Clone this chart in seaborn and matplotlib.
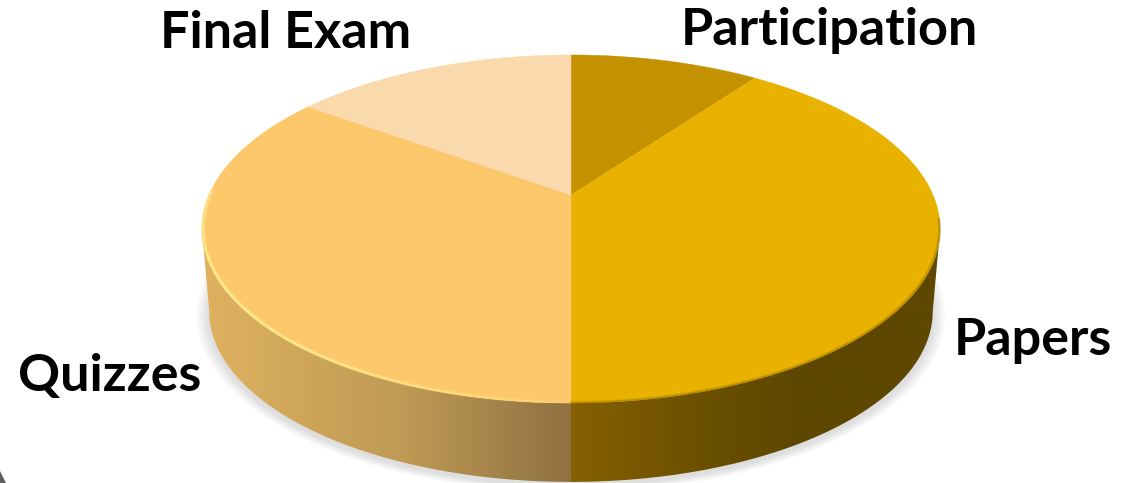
"""3D style grading pie chart drawn with a perspective projection of the unit circle."""
import numpy as np
import matplotlib
matplotlib.use("Agg")
import matplotlib.pyplot as plt
from matplotlib.collections import LineCollection
from matplotlib.colors import LinearSegmentedColormap, to_rgba
from matplotlib.patches import Polygon
import seaborn as sns

# data, clockwise from 12 o'clock
categories = ["Participation", "Papers", "Quizzes", "Final Exam"]
shares = [10, 40, 35, 15]
top_colors = ["#C49200", "#E9B200", "#FDC86C", "#FAD9AC"]

# layout in pixels
label_pos = {
    "Participation": (829, 30),
    "Papers": (1033, 340),
    "Quizzes": (110, 377),
    "Final Exam": (286, 34),
}
CX, APEX_Y = 571, 195
A, B, K = 362, 167.4, 0.1954

sns.set_theme(style="white")
plt.rcParams["font.family"] = ["Lato", "DejaVu Sans"]
palette = sns.color_palette(top_colors)


def project(theta, scale=1.0, apex_y=APEX_Y):
    # theta in degrees clockwise from the back of the disc
    t = np.radians(theta)
    u, v = np.sin(t), np.cos(t)
    w = 1 + K * v
    return CX + scale * A * u / w, apex_y - scale * B * v / w


def base(theta, grow=0.0):
    return project(theta, scale=0.98 + grow, apex_y=278)


def wall(ax, t0, t1, stops):
    # front wall between two angles, filled with a horizontal gradient
    th = np.linspace(t0, t1, 200)
    tx, ty = project(th)
    bx, by = base(th)
    pts = np.column_stack([np.r_[tx, bx[::-1]], np.r_[ty, by[::-1]]])
    x0, x1 = pts[:, 0].min(), pts[:, 0].max()
    cmap = LinearSegmentedColormap.from_list("side", stops)
    im = ax.imshow(np.linspace(0, 1, 256)[None, :], cmap=cmap, aspect="auto",
                   extent=(x0, x1, 483, 200), zorder=2, interpolation="bilinear")
    im.set_clip_path(Polygon(pts, transform=ax.transData))


fig = plt.figure(figsize=(11.22, 4.83), dpi=100)
ax = fig.add_axes([0, 0, 1, 1])

# soft shadow under the disc
tangent = 101.3
th = np.linspace(0, 360, 361)
for grow in np.linspace(0.035, 0.002, 12):
    sx, sy = base(th, grow)
    ax.fill(sx, sy + 3, color="#909090", alpha=0.022, lw=0, zorder=1)

# front wall, one gradient on each side of the 50% boundary
wall(ax, tangent, 180, [(0.0, "#866100"), (0.35, "#6B5000"), (0.6, "#5E4700"), (1.0, "#5E4700")])
wall(ax, 180, 360 - tangent, [(0.0, "#DFB25F"), (0.55, "#BE9A55"), (1.0, "#8F7040")])

# top face, one wedge per category
edges = np.r_[0, np.cumsum(shares)] / np.sum(shares) * 360
for i, name in enumerate(categories):
    arc = np.linspace(edges[i], edges[i + 1], 200)
    ax_x, ax_y = project(arc)
    ax.fill(np.r_[CX, ax_x], np.r_[APEX_Y, ax_y], color=palette[i], lw=0.3, zorder=3)

# bevel along the front rim: pale highlight on the left, dark on the right
arc = np.linspace(180, 272, 160)
rx, ry = project(arc, scale=0.996)
segs = np.stack([np.column_stack([rx[:-1], ry[:-1]]), np.column_stack([rx[1:], ry[1:]])], axis=1)
fade = np.clip(1.0 - np.abs(np.linspace(0, 1, 159) - 0.6) / 0.6, 0, 1) ** 0.6
for width, strength in [(3.0, 0.35), (1.6, 0.95)]:
    rgba = np.tile(to_rgba("#FFEE8C"), (159, 1))
    rgba[:, 3] = fade * strength
    ax.add_collection(LineCollection(segs, colors=rgba, linewidths=width, zorder=4))

arc = np.linspace(98, 180, 120)
rx, ry = project(arc, scale=0.998)
for width, alpha in [(2.5, 0.15), (1.2, 0.25)]:
    ax.plot(rx, ry, color="#6B5000", lw=width, alpha=alpha, zorder=4)

# stray corner of something dark, bottom left of the crop
ax.fill([0, 0, 6], [471, 483, 483], color="#5F5F5F", lw=0, zorder=1)

for name in categories:
    x, y = label_pos[name]
    ax.text(x, y, name, ha="center", va="center", fontsize=37.5,
            fontweight="bold", color="black", zorder=5)

ax.set_xlim(0, 1122)
ax.set_ylim(483, 0)
ax.axis("off")
fig.savefig("out.png", dpi=100, facecolor="white")
